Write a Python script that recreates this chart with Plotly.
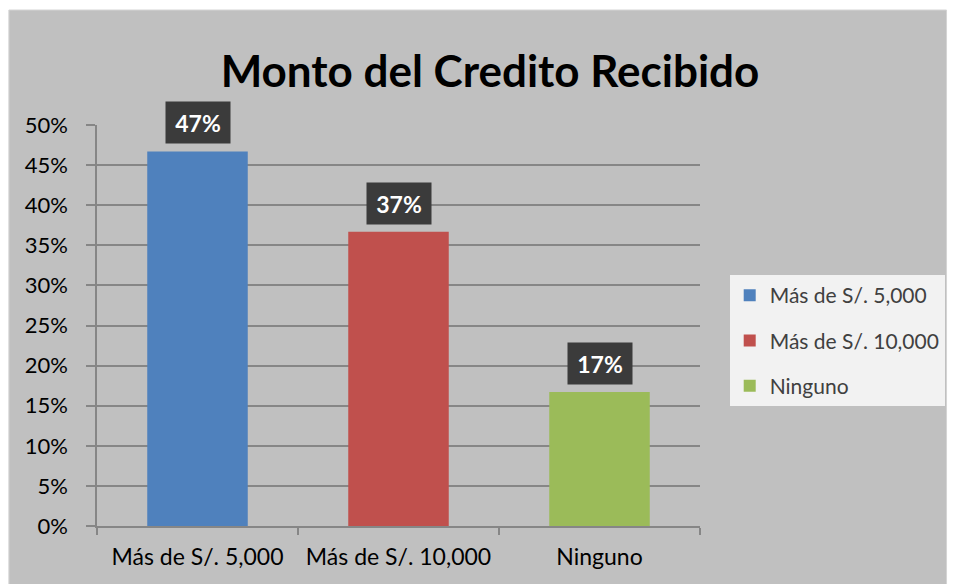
import plotly.graph_objects as go

# Chart data
categories = ["Más de S/. 5,000", "Más de S/. 10,000", "Ninguno"]
values = [46.7, 36.7, 16.7]
value_labels = ["47%", "37%", "17%"]
colors = ["#4f81bd", "#c0504d", "#9bbb59"]
y_ticks = [0, 5, 10, 15, 20, 25, 30, 35, 40, 45, 50]
y_tick_labels = [f"{t}%" for t in y_ticks]

FONT = "Lato, 'Open Sans', sans-serif"
GRID = "#868686"

# page body adds 8px margin, so figure coords = picture coords - 8
W, H = 949, 576
L, T, R, B = 89, 117, 698, 518


def build_figure():
    """Build the bar chart"""
    fig = go.Figure()

    for i, (cat, val) in enumerate(zip(categories, values)):
        fig.add_trace(go.Bar(
            x=[cat],
            y=[val],
            name=cat,
            legendgroup=cat,
            marker=dict(color=colors[i], line=dict(width=0)),
            width=0.5,
        ))

    # Data labels in dark boxes above each bar
    for cat, val, lab in zip(categories, values, value_labels):
        fig.add_annotation(
            x=cat, y=val, text=f"<b>{lab}</b>",
            showarrow=False, yanchor="bottom", yshift=7,
            font=dict(family=FONT, size=23, color="white"),
            bgcolor="#3b3b3b", width=64, height=41, borderpad=0,
        )

    # Gray chart background
    pw, ph = R - L, B - T
    fig.add_shape(
        type="rect", xref="paper", yref="paper", layer="below",
        x0=(0 - L) / pw, x1=(947 - L) / pw,
        y0=(B - 590) / ph, y1=(B - 2) / ph,
        fillcolor="#c0c0c0", line=dict(color="#d4d4d4", width=1),
    )

    fig.update_layout(
        width=W, height=H,
        margin=dict(l=L, r=W - R, t=T, b=H - B),
        paper_bgcolor="white",
        plot_bgcolor="rgba(0,0,0,0)",
        barmode="overlay",
        title=dict(
            text="<b>Monto del Credito Recibido</b>",
            x=482 / W, xanchor="center",
            y=1 - 64 / H, yanchor="middle",
            font=dict(family=FONT, size=44, color="black"),
        ),
        legend=dict(
            x=(728 - L) / pw, xanchor="left",
            y=(B - 267) / ph, yanchor="top",
            bgcolor="#f2f2f2",
            font=dict(family=FONT, size=21, color="#404040"),
            tracegroupgap=15,
        ),
        font=dict(family=FONT, color="black"),
    )

    fig.update_xaxes(
        showline=True, linecolor=GRID, linewidth=1.5,
        ticks="outside", tickson="boundaries", ticklen=7, tickcolor=GRID,
        tickwidth=1.5, tickfont=dict(size=23, color="black"),
        ticklabelstandoff=10, showgrid=False,
    )
    fig.update_yaxes(
        range=[0, 50], tickvals=y_ticks, ticktext=y_tick_labels,
        showline=True, linecolor=GRID, linewidth=1.5,
        ticks="outside", ticklen=9, tickcolor=GRID, tickwidth=1.5,
        showgrid=True, gridcolor=GRID, gridwidth=1.5, zeroline=False,
        tickfont=dict(size=22, color="black"), ticklabelstandoff=14,
    )
    return fig


def main():
    fig = build_figure()
    fig.write_html("out.html")


if __name__ == "__main__":
    main()
